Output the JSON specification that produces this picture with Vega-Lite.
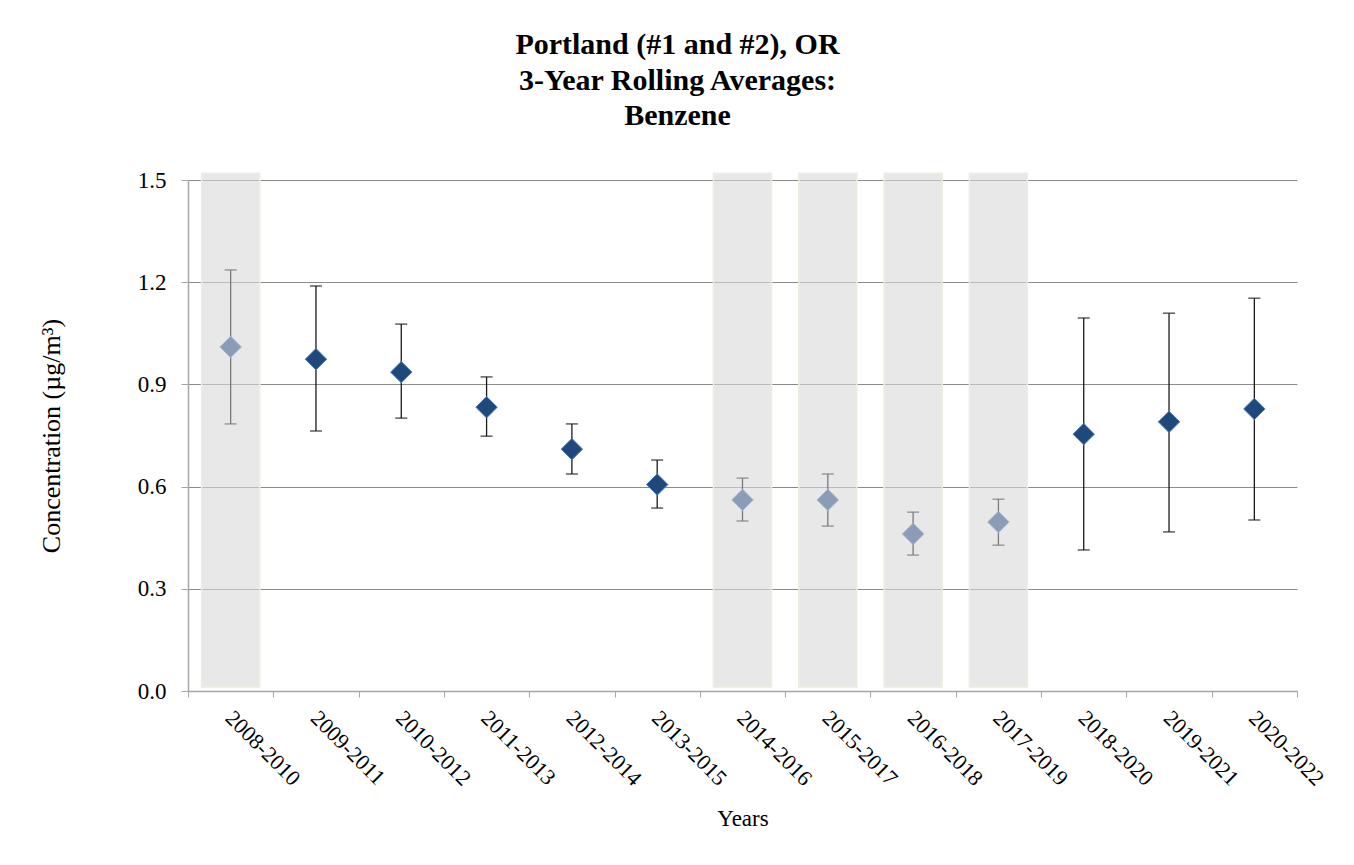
{
  "$schema": "https://vega.github.io/schema/vega-lite/v6.json",
  "width": 1109,
  "height": 511,
  "autosize": {"type": "none"},
  "padding": {"left": 188, "top": 180, "right": 57, "bottom": 174},
  "background": "white",
  "title": {
    "text": ["Portland (#1 and #2), OR", "3-Year Rolling Averages:", "Benzene"],
    "font": "'Liberation Serif', 'DejaVu Serif', serif",
    "fontSize": 30,
    "fontWeight": "bold",
    "lineHeight": 35.5,
    "color": "black",
    "anchor": "middle",
    "dx": -65,
    "offset": 38
  },
  "data": {
    "values": [
      {"period": "2008-2010", "avg": 1.010, "lo": 0.784, "hi": 1.236, "status": "incomplete"},
      {"period": "2009-2011", "avg": 0.974, "lo": 0.763, "hi": 1.189, "status": "complete"},
      {"period": "2010-2012", "avg": 0.936, "lo": 0.801, "hi": 1.077, "status": "complete"},
      {"period": "2011-2013", "avg": 0.833, "lo": 0.748, "hi": 0.922, "status": "complete"},
      {"period": "2012-2014", "avg": 0.710, "lo": 0.637, "hi": 0.784, "status": "complete"},
      {"period": "2013-2015", "avg": 0.606, "lo": 0.537, "hi": 0.678, "status": "complete"},
      {"period": "2014-2016", "avg": 0.561, "lo": 0.499, "hi": 0.625, "status": "incomplete"},
      {"period": "2015-2017", "avg": 0.561, "lo": 0.484, "hi": 0.637, "status": "incomplete"},
      {"period": "2016-2018", "avg": 0.461, "lo": 0.399, "hi": 0.525, "status": "incomplete"},
      {"period": "2017-2019", "avg": 0.496, "lo": 0.428, "hi": 0.563, "status": "incomplete"},
      {"period": "2018-2020", "avg": 0.754, "lo": 0.414, "hi": 1.095, "status": "complete"},
      {"period": "2019-2021", "avg": 0.790, "lo": 0.467, "hi": 1.109, "status": "complete"},
      {"period": "2020-2022", "avg": 0.828, "lo": 0.502, "hi": 1.153, "status": "complete"}
    ]
  },
  "encoding": {
    "x": {
      "field": "period",
      "type": "nominal",
      "sort": ["2008-2010", "2009-2011", "2010-2012", "2011-2013", "2012-2014", "2013-2015", "2014-2016", "2015-2017", "2016-2018", "2017-2019", "2018-2020", "2019-2021", "2020-2022"],
      "scale": {"paddingInner": 0, "paddingOuter": 0},
      "axis": {
        "title": "Years",
        "titleFont": "'Liberation Serif', 'DejaVu Serif', serif",
        "titleFontSize": 23,
        "titleFontWeight": "normal",
        "titleColor": "black",
        "titlePadding": 18,
        "labelFont": "'Liberation Serif', 'DejaVu Serif', serif",
        "labelFontSize": 22,
        "labelColor": "black",
        "labelAngle": 45,
        "labelAlign": "left",
        "labelBaseline": "top",
        "labelPadding": 10,
        "labelOffset": 5,
        "domainColor": "#a6a6a6",
        "domainWidth": 1.5,
        "tickColor": "#a6a6a6",
        "tickSize": 6,
        "tickBand": "extent",
        "grid": false
      }
    }
  },
  "layer": [
    {
      "mark": {"type": "bar", "fill": "#d9d9d9", "fillOpacity": 0.6, "stroke": "#efece0", "strokeWidth": 1.5, "width": {"band": 0.68}, "clip": false},
      "transform": [{"filter": "datum.status === 'incomplete'"}],
      "encoding": {
        "y": {"datum": 1.52, "type": "quantitative",
          "scale": {"domain": [0, 1.5], "nice": false},
          "axis": {
            "title": "Concentration (µg/m³)",
            "titleFont": "'Liberation Serif', 'DejaVu Serif', serif",
            "titleFontSize": 26,
            "titleFontWeight": "normal",
            "titleColor": "black",
            "titlePadding": 73,
            "values": [0, 0.3, 0.6, 0.9, 1.2, 1.5],
            "format": ".1f",
            "labelFont": "'Liberation Serif', 'DejaVu Serif', serif",
            "labelFontSize": 23,
            "labelColor": "black",
            "labelPadding": 15,
            "domainColor": "#a6a6a6",
            "domainWidth": 1.5,
            "tickColor": "#a6a6a6",
            "tickSize": 7,
            "grid": true,
            "gridColor": "#8c8c8c",
            "gridWidth": 1
          }
        },
        "y2": {"datum": 0.012}
      }
    },
    {
      "mark": {"type": "rule", "strokeWidth": 1.3},
      "encoding": {
        "y": {"field": "lo", "type": "quantitative"},
        "y2": {"field": "hi"},
        "color": {"field": "status", "type": "nominal", "scale": {"domain": ["complete", "incomplete"], "range": ["#1a1a1a", "#7a7a7a"]}, "legend": null}
      }
    },
    {
      "mark": {"type": "tick", "orient": "horizontal", "size": 12, "thickness": 1.5},
      "encoding": {
        "y": {"field": "lo", "type": "quantitative"},
        "color": {"field": "status", "type": "nominal", "legend": null}
      }
    },
    {
      "mark": {"type": "tick", "orient": "horizontal", "size": 12, "thickness": 1.5},
      "encoding": {
        "y": {"field": "hi", "type": "quantitative"},
        "color": {"field": "status", "type": "nominal", "legend": null}
      }
    },
    {
      "mark": {"type": "point", "shape": "diamond", "filled": true, "size": 460, "strokeWidth": 1, "opacity": 1},
      "encoding": {
        "y": {"field": "avg", "type": "quantitative"},
        "fill": {"field": "status", "type": "nominal", "scale": {"domain": ["complete", "incomplete"], "range": ["#1f497d", "#8a9cb6"]}, "legend": null},
        "stroke": {"field": "status", "type": "nominal", "scale": {"domain": ["complete", "incomplete"], "range": ["#4f81bd", "#a3b5cf"]}, "legend": null}
      }
    }
  ],
  "config": {
    "view": {"stroke": null},
    "font": "'Liberation Serif', 'DejaVu Serif', serif"
  }
}
